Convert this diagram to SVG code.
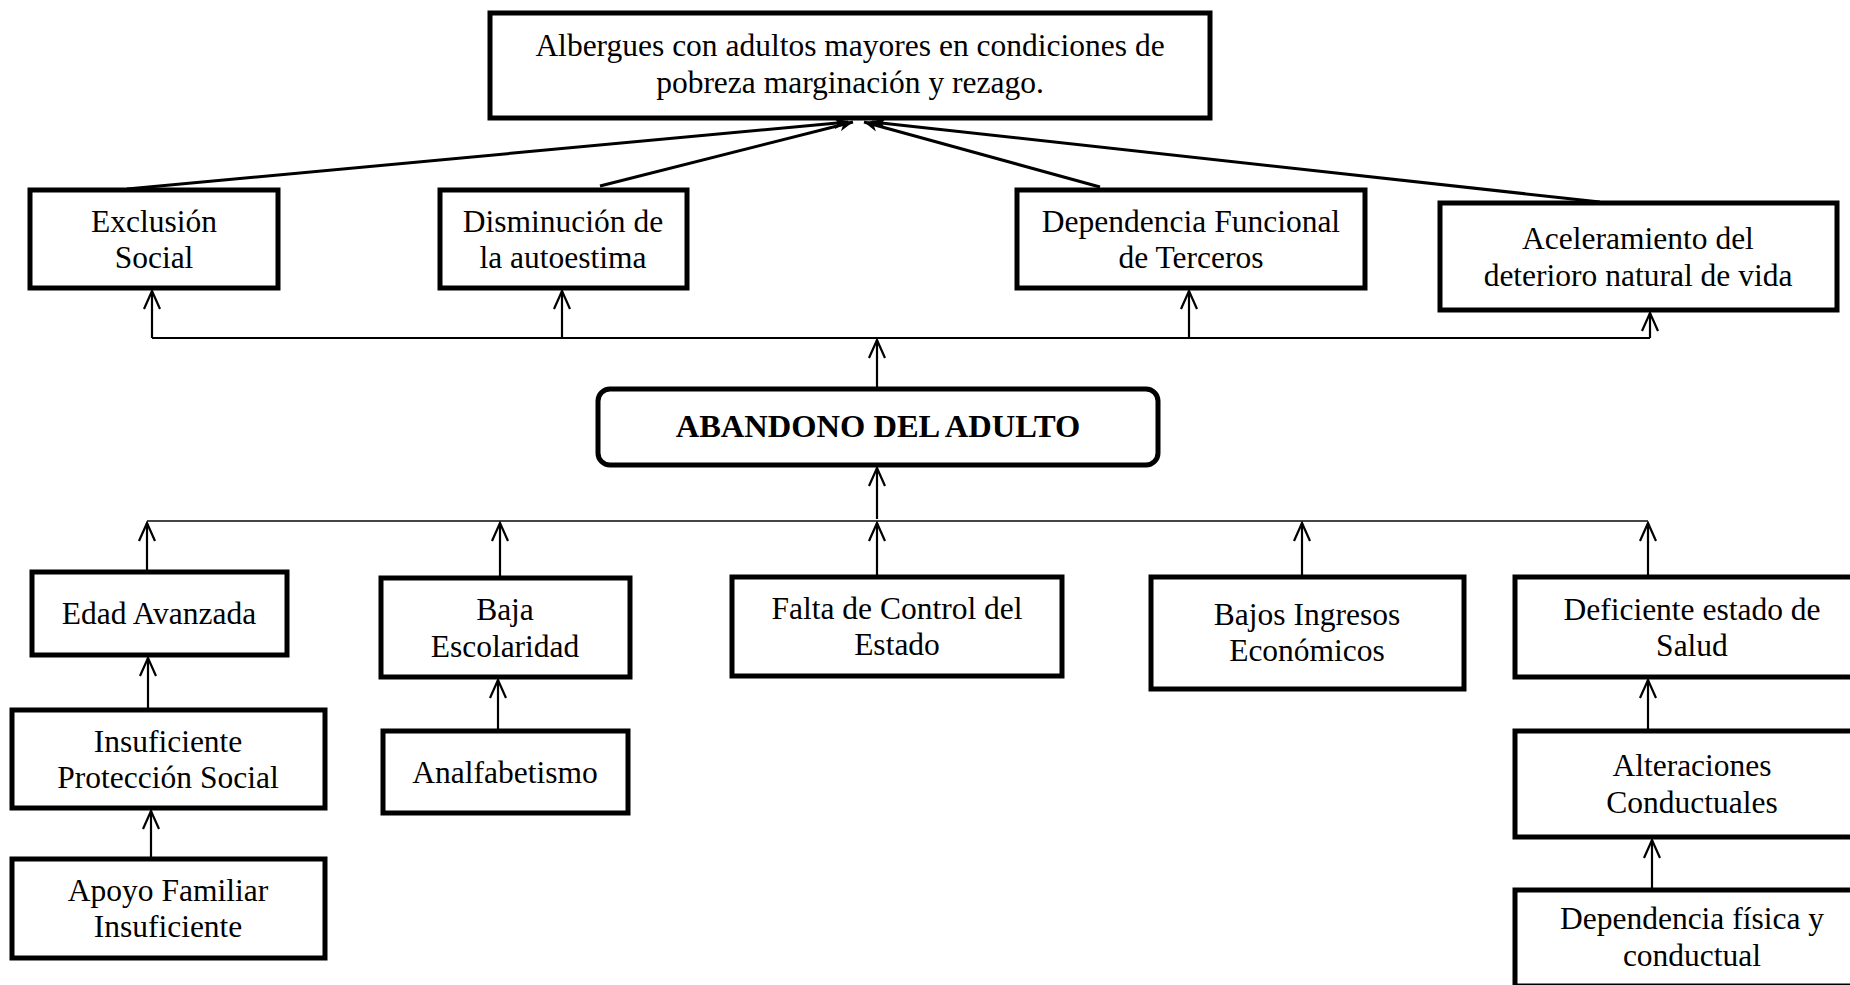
<svg xmlns="http://www.w3.org/2000/svg" width="1850" height="985" viewBox="0 0 1850 985">
<style>
.box{fill:#fff;stroke:#000;stroke-width:5}
.t{font-family:"Liberation Serif","Times New Roman",serif;font-size:31.5px;fill:#000;text-anchor:middle}
.b{font-weight:bold;font-size:32.5px}
.ln{stroke:#000;stroke-width:2.2;fill:none}
.dg{stroke:#000;stroke-width:3;fill:none}
</style>
<defs>
<marker id="open" markerUnits="userSpaceOnUse" viewBox="-20 -11 22 22" markerWidth="22" markerHeight="22" refX="0" refY="0" orient="auto">
<path d="M-18,-8 L0,0 L-18,8" fill="none" stroke="#000" stroke-width="2.2"/>
</marker>
<marker id="solid" markerUnits="userSpaceOnUse" viewBox="-16 -8 18 16" markerWidth="18" markerHeight="16" refX="0" refY="0" orient="auto">
<path d="M-14,-6 L0,0 L-14,6 L-10,0 Z" fill="#000"/>
</marker>
</defs>

<g id="connectors">
<line class="dg" x1="127" y1="189" x2="848" y2="122" marker-end="url(#solid)"/>
<line class="dg" x1="600" y1="186" x2="853" y2="122" marker-end="url(#solid)"/>
<line class="dg" x1="1100" y1="187" x2="864" y2="122" marker-end="url(#solid)"/>
<line class="dg" x1="1600" y1="202" x2="872" y2="122" marker-end="url(#solid)"/>

<line class="ln" x1="152" y1="338" x2="1650" y2="338"/>
<line class="ln" x1="152" y1="338" x2="152" y2="291" marker-end="url(#open)"/>
<line class="ln" x1="562" y1="338" x2="562" y2="291" marker-end="url(#open)"/>
<line class="ln" x1="1189" y1="338" x2="1189" y2="291" marker-end="url(#open)"/>
<line class="ln" x1="1650" y1="338" x2="1650" y2="313" marker-end="url(#open)"/>
<line class="ln" x1="877" y1="387" x2="877" y2="340" marker-end="url(#open)"/>

<line class="ln" x1="877" y1="519" x2="877" y2="468" marker-end="url(#open)"/>
<line x1="147" y1="521" x2="1648" y2="521" stroke="#444" stroke-width="2"/>
<line class="ln" x1="147" y1="570" x2="147" y2="523" marker-end="url(#open)"/>
<line class="ln" x1="500" y1="576" x2="500" y2="523" marker-end="url(#open)"/>
<line class="ln" x1="877" y1="575" x2="877" y2="523" marker-end="url(#open)"/>
<line class="ln" x1="1302" y1="575" x2="1302" y2="523" marker-end="url(#open)"/>
<line class="ln" x1="1648" y1="575" x2="1648" y2="523" marker-end="url(#open)"/>

<line class="ln" x1="148" y1="708" x2="148" y2="658" marker-end="url(#open)"/>
<line class="ln" x1="151" y1="857" x2="151" y2="811" marker-end="url(#open)"/>
<line class="ln" x1="498" y1="729" x2="498" y2="680" marker-end="url(#open)"/>
<line class="ln" x1="1648" y1="729" x2="1648" y2="680" marker-end="url(#open)"/>
<line class="ln" x1="1652" y1="888" x2="1652" y2="840" marker-end="url(#open)"/>
</g>

<g id="n-albergues">
<rect class="box" x="490" y="13" width="720" height="105"/>
<text class="t" x="850" y="56">Albergues con adultos mayores en condiciones de</text>
<text class="t" x="850" y="93">pobreza marginación y rezago.</text>
</g>

<g id="n-exclusion">
<rect class="box" x="30" y="190" width="248" height="98"/>
<text class="t" x="154" y="232">Exclusión</text>
<text class="t" x="154" y="268">Social</text>
</g>

<g id="n-disminucion">
<rect class="box" x="440" y="190" width="247" height="98"/>
<text class="t" x="563" y="232">Disminución de</text>
<text class="t" x="563" y="268">la autoestima</text>
</g>

<g id="n-dependencia-funcional">
<rect class="box" x="1017" y="190" width="348" height="98"/>
<text class="t" x="1191" y="232">Dependencia Funcional</text>
<text class="t" x="1191" y="268">de Terceros</text>
</g>

<g id="n-aceleramiento">
<rect class="box" x="1440" y="203" width="397" height="107"/>
<text class="t" x="1638" y="249">Aceleramiento del</text>
<text class="t" x="1638" y="286">deterioro natural de vida</text>
</g>

<g id="n-abandono">
<rect class="box" x="598" y="389" width="560" height="76" rx="12" ry="12"/>
<text class="t b" x="878" y="437">ABANDONO DEL ADULTO</text>
</g>

<g id="n-edad">
<rect class="box" x="32" y="572" width="255" height="83"/>
<text class="t" x="159" y="624">Edad Avanzada</text>
</g>

<g id="n-baja">
<rect class="box" x="381" y="578" width="249" height="99"/>
<text class="t" x="505" y="620">Baja</text>
<text class="t" x="505" y="657">Escolaridad</text>
</g>

<g id="n-falta">
<rect class="box" x="732" y="577" width="330" height="99"/>
<text class="t" x="897" y="619">Falta de Control del</text>
<text class="t" x="897" y="655">Estado</text>
</g>

<g id="n-bajos">
<rect class="box" x="1151" y="577" width="313" height="112"/>
<text class="t" x="1307" y="625">Bajos Ingresos</text>
<text class="t" x="1307" y="661">Económicos</text>
</g>

<g id="n-deficiente">
<rect class="box" x="1515" y="577" width="354" height="100"/>
<text class="t" x="1692" y="620">Deficiente estado de</text>
<text class="t" x="1692" y="656">Salud</text>
</g>

<g id="n-insuficiente">
<rect class="box" x="12" y="710" width="313" height="98"/>
<text class="t" x="168" y="752">Insuficiente</text>
<text class="t" x="168" y="788">Protección Social</text>
</g>

<g id="n-apoyo">
<rect class="box" x="12" y="859" width="313" height="99"/>
<text class="t" x="168" y="901">Apoyo Familiar</text>
<text class="t" x="168" y="937">Insuficiente</text>
</g>

<g id="n-analfabetismo">
<rect class="box" x="383" y="731" width="245" height="82"/>
<text class="t" x="505" y="783">Analfabetismo</text>
</g>

<g id="n-alteraciones">
<rect class="box" x="1515" y="731" width="354" height="106"/>
<text class="t" x="1692" y="776">Alteraciones</text>
<text class="t" x="1692" y="813">Conductuales</text>
</g>

<g id="n-dependencia-fisica">
<rect class="box" x="1515" y="890" width="354" height="96"/>
<text class="t" x="1692" y="929">Dependencia física y</text>
<text class="t" x="1692" y="966">conductual</text>
</g>
</svg>
